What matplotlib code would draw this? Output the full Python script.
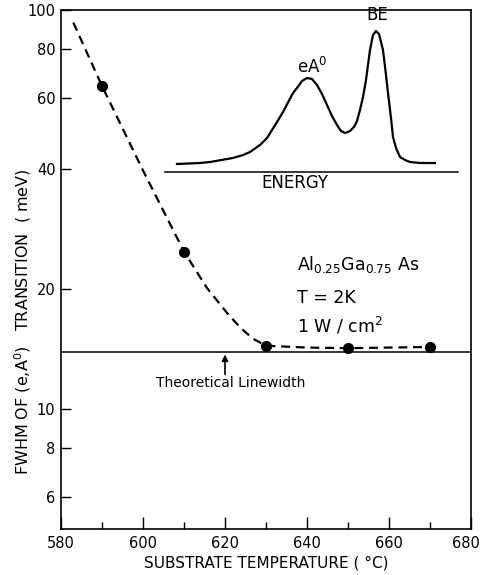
import numpy as np
import matplotlib
matplotlib.use("Agg")
import matplotlib.pyplot as plt
import matplotlib.transforms as mtransforms
from matplotlib.ticker import FixedLocator, NullLocator, FixedFormatter

# measured FWHM points
temp = [590, 610, 630, 650, 670]
fwhm = [64.5, 24.8, 14.4, 14.2, 14.3]

# hand-drawn guide curve through the points
curve_temp = [583, 590, 600, 610, 615.6, 620.5, 623.7, 626.8, 630, 640, 650, 660, 670]
curve_fwhm = [93, 64.5, 39.6, 24.8, 20.1, 17.4, 16.0, 15.0, 14.4, 14.25, 14.2, 14.25, 14.3]

theory_width = 13.9
arrow_temp = 620

# inset PL spectrum (arbitrary units)
energy = [12, 35, 45, 68, 78, 85, 95, 102, 112, 118, 128, 132, 137, 142, 147, 152,
          157, 162, 167, 172, 176, 180, 185, 189, 192, 195, 198, 201, 205, 208, 211,
          214, 218, 221, 223, 226, 228, 231, 235, 240, 245, 255, 270]
intensity = [8, 9, 10, 14, 17, 20, 27, 34, 50, 60, 79, 84, 91, 94, 93, 87,
             78, 67, 56, 47, 41, 39, 41, 45, 51, 62, 75, 92, 122, 137, 141,
             138, 122, 97, 79, 54, 35, 24, 15, 12, 10, 9, 9]

xticks = [580, 600, 620, 640, 660, 680]
yticks = [6, 8, 10, 20, 40, 60, 80, 100]

plt.rcParams['font.family'] = ['DejaVu Sans']

fig = plt.figure(figsize=(4.8, 5.75), dpi=100)
ax = fig.add_axes([61/480, 1 - 529/575, 410/480, 519/575])

ax.set_yscale('log')
ax.set_xlim(580, 680)
ax.set_ylim(5, 100)

ax.plot(curve_temp, curve_fwhm, color='black', lw=1.6, linestyle=(0, (4, 2.6)))
ax.plot(temp, fwhm, 'o', color='black', ms=7)
ax.axhline(theory_width, color='black', lw=1.1)

ax.annotate('', xy=(arrow_temp, theory_width * 0.985), xytext=(arrow_temp, 12.2),
            arrowprops=dict(arrowstyle='-|>', color='black', lw=1.2,
                            mutation_scale=9, shrinkA=0, shrinkB=0))
ax.text(621.5, 11.6, 'Theoretical Linewidth', ha='center', va='center', fontsize=10)

ax.text(637.5, 23.0, r'Al$_{0.25}$Ga$_{0.75}$ As', ha='left', va='center', fontsize=12.5)
ax.text(637.5, 19.0, 'T = 2K', ha='left', va='center', fontsize=12.5)
ax.text(637.5, 16.1, r'1 W / cm$^2$', ha='left', va='center', fontsize=12.5)

ax.xaxis.set_major_locator(FixedLocator(xticks))
ax.xaxis.set_major_formatter(FixedFormatter([str(v) for v in xticks]))
ax.xaxis.set_minor_locator(FixedLocator([590, 610, 630, 650, 670]))
ax.yaxis.set_major_locator(FixedLocator(yticks))
ax.yaxis.set_major_formatter(FixedFormatter([str(v) for v in yticks]))
ax.yaxis.set_minor_locator(NullLocator())
ax.tick_params(axis='x', which='major', direction='in', length=9, width=1, labelsize=10.5, pad=5)
ax.tick_params(axis='x', which='minor', direction='in', length=5, width=1)
ax.tick_params(axis='y', which='major', direction='in', length=7, width=1, labelsize=10.5, pad=4)
for s in ax.spines.values():
    s.set_linewidth(1.2)

# keep the last x label inside the figure
last = ax.get_xticklabels()[-1]
last.set_transform(last.get_transform() +
                   mtransforms.ScaledTranslation(-5/100, 0, fig.dpi_scale_trans))

ax.set_xlabel('SUBSTRATE TEMPERATURE ( °C)', fontsize=11, labelpad=3)
fig.text(23/480, 1 - 322/575, r'FWHM OF (e,A$^0$)   TRANSITION  ( meV)',
         rotation=90, ha='center', va='center', fontsize=11.5)

# inset spectrum
ax_in = fig.add_axes([165/480, 1 - 172/575, 293/480, 152/575])
ax_in.plot(energy, intensity, color='black', lw=1.6)
ax_in.set_xlim(0, 293)
ax_in.set_ylim(0, 152)
ax_in.patch.set_alpha(0)
for side in ['top', 'right', 'left']:
    ax_in.spines[side].set_visible(False)
ax_in.spines['bottom'].set_linewidth(1.1)
ax_in.set_xticks([])
ax_in.set_yticks([])
ax_in.text(130, -11, 'ENERGY', ha='center', va='center', fontsize=12)
ax_in.text(147, 105, r'eA$^0$', ha='center', va='center', fontsize=12)
ax_in.text(212, 157, 'BE', ha='center', va='center', fontsize=12)

fig.savefig('out.png', dpi=100)
